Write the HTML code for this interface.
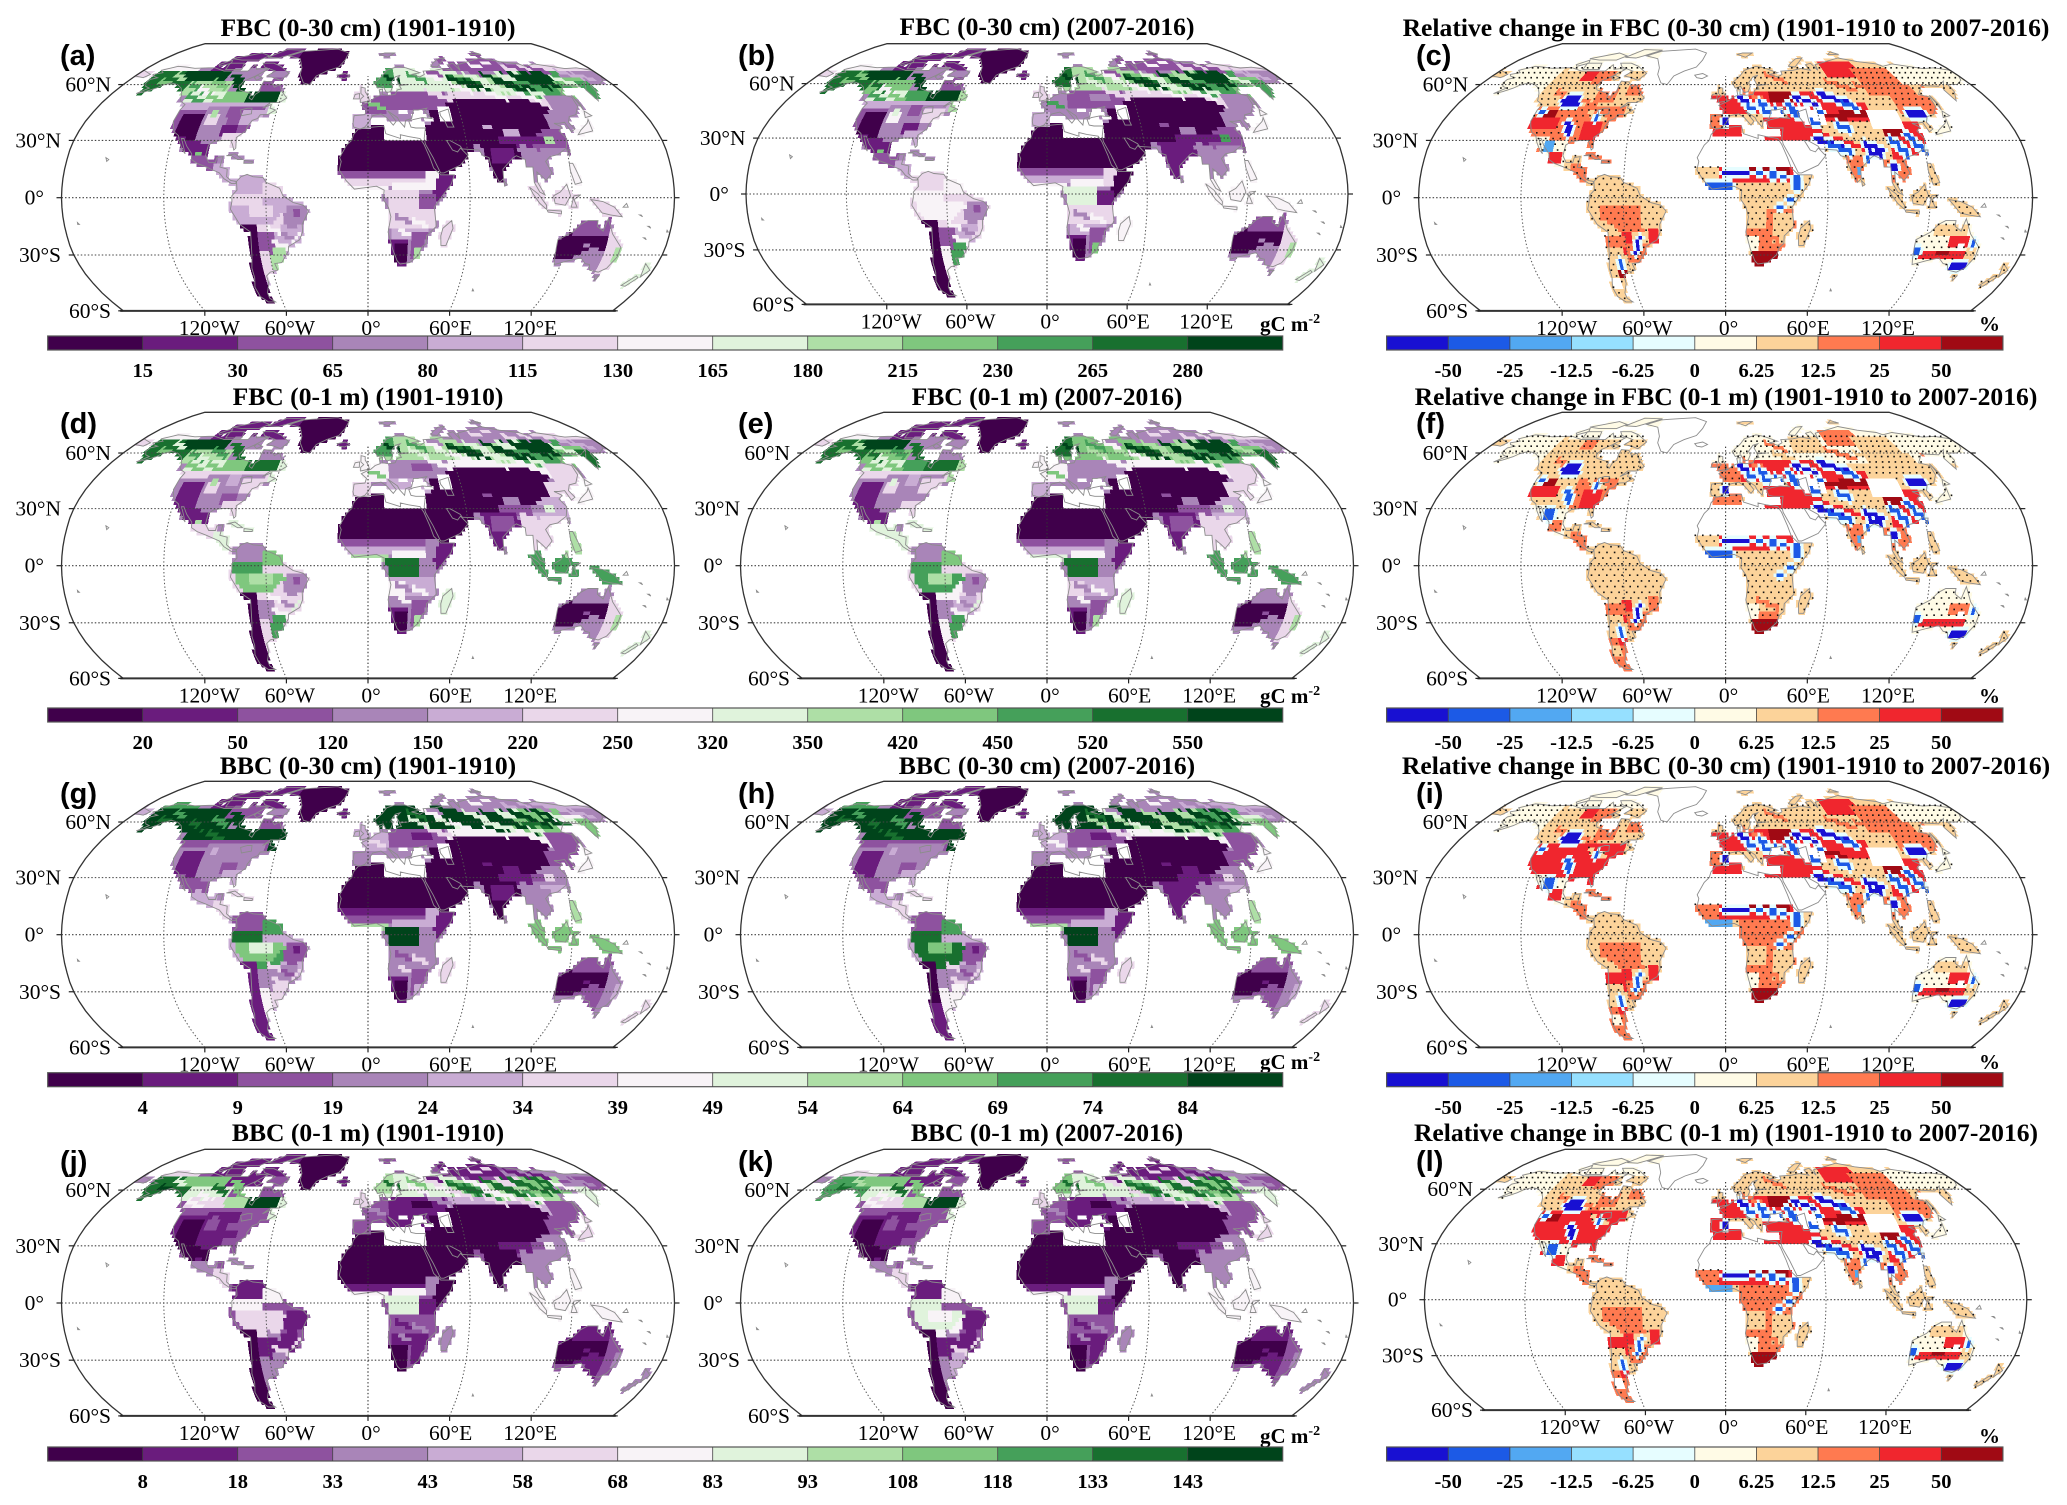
<!DOCTYPE html>
<html lang="en">
<head>
<meta charset="utf-8">
<title>Fine and bulk belowground carbon maps</title>
<style>
html,body{margin:0;padding:0;background:#fff;}
svg{display:block;}
.title{font:bold 25.6px "Liberation Serif",serif;text-anchor:middle;fill:#000;}
.letter{font:bold 29px "Liberation Sans",sans-serif;fill:#000;}
.unit{font:bold 21px "Liberation Serif",serif;fill:#000;}
.axis{font:21.5px "Liberation Serif",serif;fill:#000;}
.cbl{font:bold 20.5px "Liberation Serif",serif;fill:#000;text-anchor:middle;}
</style>
</head>
<body>
<svg id="fig" xmlns="http://www.w3.org/2000/svg" width="2067" height="1505" viewBox="0 0 2067 1505">
<rect width="2067" height="1505" fill="#fff"/>
<g id="maps"></g>
<g>
<text class="title" x="368" y="36">FBC (0-30 cm) (1901-1910)</text>
<text class="title" x="1047" y="35">FBC (0-30 cm) (2007-2016)</text>
<text class="title" x="1726" y="36">Relative change in FBC (0-30 cm) (1901-1910 to 2007-2016)</text>
<text class="title" x="368" y="405">FBC (0-1 m) (1901-1910)</text>
<text class="title" x="1047" y="405">FBC (0-1 m) (2007-2016)</text>
<text class="title" x="1726" y="405">Relative change in FBC (0-1 m) (1901-1910 to 2007-2016)</text>
<text class="title" x="368" y="774">BBC (0-30 cm) (1901-1910)</text>
<text class="title" x="1047" y="774">BBC (0-30 cm) (2007-2016)</text>
<text class="title" x="1726" y="774">Relative change in BBC (0-30 cm) (1901-1910 to 2007-2016)</text>
<text class="title" x="368" y="1141">BBC (0-1 m) (1901-1910)</text>
<text class="title" x="1047" y="1141">BBC (0-1 m) (2007-2016)</text>
<text class="title" x="1726" y="1141">Relative change in BBC (0-1 m) (1901-1910 to 2007-2016)</text>
</g>
<g>
<text class="letter" x="60" y="65">(a)</text>
<text class="letter" x="738" y="65">(b)</text>
<text class="letter" x="1416" y="65">(c)</text>
<text class="letter" x="60" y="433">(d)</text>
<text class="letter" x="738" y="433">(e)</text>
<text class="letter" x="1416" y="433">(f)</text>
<text class="letter" x="60" y="803">(g)</text>
<text class="letter" x="738" y="803">(h)</text>
<text class="letter" x="1416" y="803">(i)</text>
<text class="letter" x="60" y="1171">(j)</text>
<text class="letter" x="738" y="1171">(k)</text>
<text class="letter" x="1416" y="1171">(l)</text>
</g>
<g>
<text class="unit" x="1260" y="331">gC m<tspan dy="-8" font-size="14">-2</tspan></text>
<text class="unit" x="1260" y="703">gC m<tspan dy="-8" font-size="14">-2</tspan></text>
<text class="unit" x="1260" y="1069">gC m<tspan dy="-8" font-size="14">-2</tspan></text>
<text class="unit" x="1260" y="1443">gC m<tspan dy="-8" font-size="14">-2</tspan></text>
<text class="unit" x="1979" y="331">%</text>
<text class="unit" x="1979" y="703">%</text>
<text class="unit" x="1979" y="1069">%</text>
<text class="unit" x="1979" y="1443">%</text>
</g>
<g id="bars"></g>
</svg>
<script>
/* ---------- legend data ---------- */
const stockColors=['#40004b','#6a1c7d','#8e529f','#a985b8','#c9acd4','#ead7ea','#f8f3f7','#e0f3dc','#aedfa6','#7fc77e','#45a05a','#18702f','#00441b'];
const changeColors=['#1810d2','#1c5ae6','#52a8f2','#96e0ff','#e6fdff','#fffbe6','#fcd39a','#ff7a50','#f0262e','#a00a14'];
const ticksFbc30=['15','30','65','80','115','130','165','180','215','230','265','280'];
const ticksFbc1m=['20','50','120','150','220','250','320','350','420','450','520','550'];
const ticksBbc30=['4','9','19','24','34','39','49','54','64','69','74','84'];
const ticksBbc1m=['8','18','33','43','58','68','83','93','108','118','133','143'];
const ticksChange=['-50','-25','-12.5','-6.25','0','6.25','12.5','25','50'];
const latTickValues=[60,30,0,-30,-60];
const latTickLabels=['60°N','30°N','0°','30°S','60°S'];
const lonTickValues=[-120,-60,0,60,120];
const lonTickLabels=['120°W','60°W','0°','60°E','120°E'];

/* ---------- coastlines, lon/lat pairs ---------- */
const coastlines=[
[-168,66,-162,67,-166,68.5,-157,71,-150,70.5,-141,69.7,-130,70,-125,70,-115,68,-108,68,-96,68,-94,72,-90,69,-85,69.5,-81,69,-87,65,-93,62,-94,59,-92,57,-85,55.5,-82,55,-82,52.5,-79.5,51.5,-79,54.5,-77,56,-78,59,-78,62,-72,61.5,-68,58.5,-65,60,-61,56,-56,52.5,-60,50,-66,50,-70,47,-65,49,-65,47,-61,46,-65,43.7,-70,43.5,-71,41.5,-74,40.5,-76,37,-76,35,-81,31.5,-80,26,-81,25,-82.5,28,-84,30,-89,30,-94,29.5,-97,27.5,-97.5,22,-95,18.5,-91,18.5,-90.5,21,-87,21.5,-88,16,-83.5,15,-83.5,11,-81,9,-77.5,8.5,-78,7.5,-80.5,7.5,-85,10,-88,13,-92,14.5,-96,16,-102,18,-105.5,20,-106,23,-110,27,-113,31,-114.5,31,-112,27,-110,23,-112,25,-115,29,-117,32.5,-120.5,34.5,-122.5,37.5,-124,40,-124,46,-123,49,-128,51,-131,55,-135,58,-140,60,-146,61,-151,59.5,-153,58,-158,56,-163,55,-158,58,-162,59,-165,61,-165,63,-161,64,-166,65],
[-80,73,-72,71,-62,66.5,-66,62.5,-72,64,-78,65,-74,68,-85,70.5,-89,73],
[-117,73,-105,73,-102,69,-115,69],
[-125,72,-118,75,-116,73,-123,71],
[-90,77,-80,83,-62,82.5,-75,78,-80,76.5],
[-120,76,-100,80,-90,78,-95,75,-110,75],
[-86,65.5,-81,64,-84,62.5,-87,64],
[-55,82,-30,83.5,-18,80,-20,75,-24,70.5,-33,68,-40,65,-43,60,-48,61,-53,66,-54,70,-60,76,-72,78,-62,81.5],
[-77.5,8.5,-75,11,-71.5,12.2,-68,11,-62,10.5,-60,8,-52,5,-50,1,-44,-2.5,-38,-4,-35,-7,-39,-14,-39,-18,-41,-22,-48,-25.5,-48.5,-28,-53.5,-34,-58,-34.5,-57,-38,-62,-39,-65,-41,-65,-45,-68,-50,-68,-53,-65,-55,-70,-55,-74,-52,-75,-47,-73,-42,-73,-37,-71,-30,-70,-18,-76,-14,-81,-6,-80,-2,-80,1,-77,4],
[-6,36,3,37,10,37.5,11,33.5,20,31,20,33,25,32,32,31,34,28,37,21,39,15.5,43,12,51,12,49,7,42,-1,39,-5,40.5,-15,35,-20,35,-24,32.5,-26,31,-30,26,-34,20,-34.7,18,-33,15,-27,12,-18,13.5,-10,12,-5,9,-1,9.5,4,5,6,-4,5,-8,4.5,-13,9,-17,14.5,-16,19,-17,21,-13,27.5,-10,30,-9,33],
[49.5,-12,50.5,-16,47,-25,44,-25,43.5,-20,44.5,-16],
[-9,37,-9.5,39,-9,43,-2,43.5,-1,46,-4.5,48.5,2,51,5,53,8.5,54,8,57,10.5,57.5,10,54.5,14,54,19,54.5,21,57,24,57.5,23,59.5,30,60,23,60,21.5,63,25,65.5,21,64.5,17,61,18,59,16,56,13,55.5,11,59,7,58,5,61,11,65,15,68.5,25,71,31,70,41,67,34,66,40,64.5,44,66,44,68,54,68.5,61,69.5,68,68.5,67,72,72,73,74,68.5,75,72,86,74,100,76.5,113,74,127,72.5,130,71,140,72.5,160,69.5,170,70,180,68.5,180,65,177,62.5,170,60,163,60,162,56,157,51,156,57,163,62,155,59,143,59.5,135,54.5,141,53,140,48,135,43.5,130,42.5,127.5,39.5,129.5,36,126.5,34.5,125,39.5,121,39,118,39,122,37,119,35,122,31,120,26,114,22.5,109,21.5,106,19,109,13,105,9,103,11,100,13.5,100,8,104,1.5,101,3,98,8,98,16,94,16,94,20,89,22,87,21,80,15,80,10,77.5,8,73,17,72.5,21,69,22,67,25,57,25.5,56,27,50,30,48,30,51,25,54,24,56,26,60,22,55,17,45,13,43,13,39,21,35,28,34.5,31,36,36.5,30,36.5,27,37,26,40,29,41,35,42,41,41.5,37,45,39,47,33,46,30,46,28,41.5,24,40.5,23,37,20,40,19,42,13,45.5,18,40,16,38,12,42,8.5,44,3,43,0,39,-2,37,-5,36],
[-180,65,-172,64,-170,66,-180,68.5],
[-5,50,1,51,0,53.5,-2,56,-2,58,-5,58.5,-5,55,-3,53.5,-5,52],
[-10,52,-6,52,-6,55,-9,54.5],
[-24,65.5,-18,66.5,-14,65,-18,63.5,-22,64],
[52,71,57,70.5,68,76.5,62,76,55,73],
[11,79,18,77,25,80,16,80],
[95,79,105,79,100,81],
[142,54,143,49,142,46,142,50],
[130,33,135,34,140,35,141,41,139,39,133,35.5],
[140,42,145,43,142,45.5],
[120,18,122,18,124,13,126,8,122,7,120,14],
[95,5.5,100,2,105,-4,105,-6,101,-3,97,2],
[109,1,113,3,117,7,119,1,116,-4,110,-3],
[105.5,-6.5,114,-7,114,-8.5,106,-7.5],
[119.5,-5,121,1,125,1.5,121,-1,123,-5],
[131,-1,138,-2,145,-5,150,-10,143,-9,138,-8,134,-4],
[114,-22,122,-18,126,-14,130,-12,136,-12,136,-15,140,-17.5,142,-11,146,-19,153,-26,153,-31,150,-37,146,-39,140,-38,138,-35,135,-34.5,131,-31.5,124,-33,116,-35,115,-32,114,-26],
[145,-41,148,-41,147,-43.5],
[172.7,-34.5,178,-38,175,-41.5,174,-39],
[172,-41,174,-42,170,-46.5,167,-46],
[-85,22,-80,23,-75,20,-78,20,-82,22],
[-74,19.5,-69,19,-69,18,-74,18],
[80,9,82,7,80.5,6],
[120,25,122,25,121,22],
[-80,47,-77,47,-76,44,-82,43,-84,46]
];
/* inland seas the raster covers although they are water */
const rasterFill=[
[33,29,36,28,44,12,41,13,37,20],
[47,30,56,27,56,24,50,24],
[-84,46,-76,44,-80,41,-88,41,-92,47]
];
const outlineOnly=[
[47,45,53,46.5,53,40,54,37,50,37,49,40,47,43],
[-157,21,-155,20,-156,19],
[150,-5,153,-5,152,-3],[160,-9,162,-10,161,-9],[166,-15,168,-16,167,-15],[165,-21,167,-22,166,-21],[178,-18,179,-18,178,-17],[-172,-14,-171,-14,-172,-13],[70,-49,71,-49,70,-48]
];

/* ---------- stock class patterns for short streak features (a,b,d,e,g,h,j,k) ---------- */
const streakDark=[12,12,12,12,12,12,11,11];
const streakMid=[10,10,10,10,11,11,9,9];
const streakPale=[7,7,7,8,7,8,6,7];
const streakWhite=[6,6,6,6,6,7,5,5];
const streakPurple=[2,2,3,3,3,3,1,1];
const streakLav=[4,4,4,4,4,4,3,3];
const streakSav=[3,3,3,3,2,2,1,1];
const streakSavLight=[6,6,6,6,5,5,3,3];

/* ---------- biomass zones: boxes [w,s,e,n], streaks [lon,lat,length] or polygons, painted in order ---------- */
const stockFallback=[3,3,3,3,3,3,2,2];
const stockShapes={
canArctic:[-125,69,-60,85],arcticIsl:[-96,62,-80,68],greenland:[-62,59,-10,85],iceland:[-26,62,-12,67.5],
alaskaCore:[-170,55,-130,69],northSlope:[-170,68.5,-135,72],yukonNwt:[-143,63,-107,69],interiorW:[-132,55,-100,63],nunavut:[-107,62,-80,70],
hudsonLine:[-108,67,-100,67,-86,57,-92,55],prairie:[-125,50,-85,50,-85,55,-100,57,-125,57],ontario:[-100,49.5,-84,49.5,-84,56,-100,56],quebecN:[-80,56,-62,64],labrador:[-66,44,-52,56],quebecBand:[-84,50,-62,56],
na1:[-130,60,18],na2:[-122,58,16],na3:[-115,62,12],na4:[-126,54,14],na5:[-112,54,14],na6:[-150,66,12],na7:[-155,62,14],
usNorth:[-125,44,-65,50],usWest:[-124,28,-100,28,-100,46,-124,46],usWestCore:[-120,28,-105,28,-105,45,-120,45],usPlains:[-105,25,-90,48],usEast:[-90,28,-68,48],usEastDark:[-92,33,-82,38],usMidLight:[-103,38,-95,44],usGreenBlob:[-101,43,-97,47],usNE:[-82,38,-68,47],usLake:[-92,42,-84,48],usSE:[-90,25,-76,34],
mexico:[-118,32,-97,28,-96,17,-105,17],mexGreen:[-104,22,-100,25],mexicoS:[-105,15,-90,22],centralAm:[-92,7,-76,18],caribbean:[-86,17,-62,25],
saBase:[-82,-56,-34,13],saNorth:[-80,3,-58,13],guyana:[-62,0,-50,8],amazonN:[-80,-3,-62,3],amazonCore:[-78,-3,-50,-3,-48,-8,-58,-14,-72,-14,-78,-8],amazonPale:[-70,-10,-55,-4],amazonRim:[-78,-14,-58,-14,-50,-8,-48,-12,-55,-18,-70,-18],eBrazil:[-48,-3,-35,-5,-36,-12,-45,-17,-50,-12],eBrazilDark:[-44,-10,-40,-6],cerrado:[-60,-15,-42,-15,-41,-24,-52,-27,-62,-25],saCoast:[-45,-23,-40,-18,-38,-18,-48,-27],andes:[-75,-35,-65,-14],patagonia:[-76,-56,-66,-35],chaco:[-65,-30,-55,-18],pampas:[-62,-38,-57,-26,-50,-26,-52,-36,-58,-39],eArg:[-66,-44,-60,-28],
sa1:[-60,-16,10],sa2:[-52,-19,8],sa3:[-58,-23,10],
afBase:[-20,-36,52,37],sahara:[-20,13,65,38],sahelN:[-20,9.5,40,13.5],sahelS:[-20,6,40,9.5],guinea:[-15,3,12,7],caNorth:[15,5,35,9],congo:[10,5,30,5,30,-5,12,-5],ethiopia:[34,5,42,14],horn:[42,12,52,12,48,5,41,-2,38,0,40,7],kenya:[30,-5,41,2],savanna:[12,-15,41,-5],angola:[12,-15,22,-8],miombo:[14,-22,36,-15],af1:[16,-10,10],af2:[26,-12,10],af3:[18,-17,10],af4:[26,-19,8],kalahari:[12,-35,25,-22],kalaCore:[17,-33,24,-24],seAfrica:[25,-35,34,-25,36,-18,27,-18],natal:[28,-32,33,-26],madag:[42,-27,52,-11],
iberia:[-10,36,3,44],westEu:[-6,44,15,55],euStreak:[0,50,12],uk:[-11,50,2,60],balkan:[12,36,45,46],turkeyDark:[30,30,50,38.5],eeRussia:[15,46,60,46,60,52,50,58,30,57,15,55],eeCore:[30,50,45,55],nRussia:[4,55,30,57,50,57,70,56,70,70,40,70,4,70],scand:[4,58,20,70],wSib:[60,57,100,53,100,66,60,67],wSibStreak:[60,66,85,62,85,60,60,64],wSibStreak2:[70,60,95,56,95,54,70,58],eSib:[100,50,130,50,145,56,150,68,120,72,100,68],eSibCore:[120,60,141,68],eSibCore2:[113,56,120,60],eSibPale:[100,62,118,68],eSibStreak:[100,56,125,52,125,50,100,54],sibSouth:[55,48,125,46,125,52,100,54,60,57,55,54],sibWhiteBelt:[40,57,20],centralAsia:[40,30,60,30,70,26,95,26,115,36,120,48,110,51,60,52,50,48,40,45],tundraW:[60,68,110,68,110,80,60,80],tundraPatch:[85,70,105,74],tundraE:[110,68,180,72],farEast:[135,52,165,52,165,65,140,65],kamchatka:[155,50,165,62],neAsia:[-180,60,-165,70],
sd1:[60,64,20],sd2:[72,62,15],sd3:[88,66,20],sd4:[95,62,15],sd5:[105,68,18],sd6:[112,64,20],sd7:[125,68,18],sd8:[108,58,14],sd9:[130,62,15],sd10:[135,60,14],sd11:[12,65,12],sd12:[30,66,14],sd13:[140,60,12],
sp1:[75,66,15],sp2:[95,58,15],sp3:[115,56,15],sp4:[85,60,12],sp5:[140,64,14],sp6:[50,62,16],sp7:[30,62,14],sp8:[118,60,12],
sw1:[60,60,14],sw2:[82,56,14],sw3:[105,55,12],sw4:[42,67,14],
su1:[68,72,20],su2:[95,72,15],su3:[115,72,12],su4:[85,75,12],su5:[45,69,12],su6:[130,71,14],
sl1:[150,68,14],sl2:[160,66,12],
amur:[122,42,142,55],korea:[115,35,130,45],chinaE:[100,22,122,22,122,37,110,37,100,30],chinaDark:[100,28,108,33],chinaBlob:[108,28,114,32],chinaS:[105,20,120,26],tibet:[80,27,100,33],tibetSpots:[84,33,94,36],tibetSpots2:[72,36,78,39],india:[68,28,90,28,92,22,82,10,76,7,72,18],indiaE:[75,18,88,26],seAsia:[92,8,110,8,110,23,92,28],indonesia:[94,-12,156,8],philippines:[117,5,128,20],japan:[129,30,146,30,146,46,140,46,137,40,129,35],
ausBase:[112,-40,155,-10],ausCore:[114,-32,125,-32,135,-26,145,-28,145,-20,130,-20,122,-18,114,-22],ausHole:[130,-26,135,-23],ausEast:[145,-40,155,-15],ausGreen:[150,-33,154,-26],ausS:[113,-36,135,-32],ausN:[122,-19,145,-10],nz:[165,-48,180,-33],
noData1:[10,31,36,40],noData2:[21,44,27,47],noData3:[29,40,34,44],noData4:[37,40,43,43],noData5:[46,41,55,48]
};
const stockClasses={
canArctic:[1,1,1,1,1,1,1,1],arcticIsl:[2,2,2,2,1,1,1,1],greenland:[0,0,0,0,0,0,0,0],iceland:[1,1,1,1,1,1,1,1],
alaskaCore:[11,11,11,11,12,12,11,10],northSlope:[6,6,6,6,10,10,5,5],yukonNwt:[12,12,12,12,12,12,9,9],interiorW:[8,9,8,9,12,12,7,7],nunavut:[3,3,3,3,2,2,1,1],
hudsonLine:[12,12,11,11,12,12,9,9],prairie:[7,7,7,7,12,12,5,5],ontario:[9,10,9,10,12,12,8,8],quebecN:[2,2,3,3,2,2,2,2],labrador:[7,8,7,8,12,12,7,7],quebecBand:[12,12,11,11,12,12,12,12],
na1:[10,11,10,11,11,11,7,7],na2:[6,6,7,7,12,12,6,6],na3:[9,9,10,10,10,10,11,11],na4:[10,10,9,9,12,12,6,6],na5:[9,9,9,9,11,11,5,5],na6:[8,9,7,8,10,10,7,8],na7:[9,9,9,9,11,11,12,11],
usNorth:[4,4,5,5,2,2,2,2],usWest:[2,2,3,3,3,3,1,1],usWestCore:[0,0,1,1,1,1,0,0],usPlains:[3,3,3,3,3,3,1,1],usEast:[2,3,3,3,3,3,2,2],usEastDark:[1,1,2,3,2,2,1,1],usMidLight:[5,6,5,5,3,3,2,2],usGreenBlob:[8,7,8,7,4,4,2,2],usNE:[4,5,5,5,3,3,2,2],usLake:[2,2,4,4,3,3,1,1],usSE:[5,4,5,5,4,4,2,2],
mexico:[1,1,1,1,2,2,0,0],mexGreen:[9,9,8,8,4,4,1,1],mexicoS:[2,2,5,7,4,4,3,3],centralAm:[4,4,7,7,5,5,5,5],caribbean:[3,3,7,7,5,5,3,3],
saBase:[4,5,5,5,4,4,2,2],saNorth:[4,5,3,3,2,2,1,1],guyana:[5,6,9,9,10,10,6,6],amazonN:[5,6,10,10,11,11,6,7],amazonCore:[4,6,9,10,9,11,5,7],amazonPale:[5,6,8,8,7,9,5,6],amazonRim:[5,5,5,6,10,11,5,6],eBrazil:[3,3,3,3,2,2,1,1],eBrazilDark:[2,2,2,2,1,1,1,1],cerrado:[4,4,5,4,3,3,1,1],saCoast:[6,5,7,7,5,5,5,5],andes:[0,0,0,0,1,0,0,0],patagonia:[0,0,0,0,1,1,0,0],chaco:[2,2,3,3,3,3,1,1],pampas:[8,10,10,10,5,6,3,4],eArg:[5,6,5,6,6,6,3,3],
sa1:[6,6,6,6,5,5,3,3],sa2:[3,3,3,3,2,2,1,1],sa3:[6,6,6,6,5,5,5,5],
afBase:[3,3,3,3,3,3,2,2],sahara:[0,0,0,0,0,0,0,0],sahelN:[2,2,2,2,1,1,0,0],sahelS:[5,4,4,4,2,2,1,1],guinea:[6,6,8,7,8,8,6,6],caNorth:[6,6,6,6,4,4,6,6],congo:[5,7,11,11,12,12,7,7],ethiopia:[6,5,3,3,4,4,3,3],horn:[1,0,1,1,1,1,0,0],kenya:[2,1,3,3,3,3,1,1],savanna:[5,5,4,4,3,3,2,2],angola:[5,5,6,5,3,3,2,2],miombo:[4,4,3,3,3,3,1,1],af1:streakSav,af2:streakSavLight,af3:streakSavLight,af4:streakSav,kalahari:[1,1,1,1,1,1,0,0],kalaCore:[0,0,0,0,0,0,0,0],seAfrica:[2,2,2,2,2,2,1,1],natal:[8,9,8,8,4,4,1,1],madag:[5,6,7,7,5,5,3,3],
iberia:[4,4,5,4,3,3,2,2],westEu:[2,3,6,6,4,4,2,2],euStreak:[9,10,9,9,5,6,3,3],uk:[5,5,6,6,4,4,5,5],balkan:[3,3,4,3,3,3,1,1],turkeyDark:[0,0,0,0,0,0,0,0],eeRussia:[2,2,3,3,2,2,1,1],eeCore:[2,3,2,3,1,1,0,0],nRussia:[7,8,8,9,12,12,7,7],scand:[10,11,10,11,12,12,8,9],wSib:[8,9,8,9,12,12,8,8],wSibStreak:[11,11,11,11,12,12,10,10],wSibStreak2:[7,8,7,8,12,12,10,10],eSib:[10,10,10,10,9,10,8,8],eSibCore:[12,12,12,12,9,10,9,9],eSibCore2:[12,12,12,12,11,11,10,10],eSibPale:[7,8,7,8,7,8,5,5],eSibStreak:[9,10,9,10,12,12,11,11],sibSouth:[5,5,6,6,6,6,4,4],sibWhiteBelt:[5,5,6,6,5,5,3,3],centralAsia:[0,0,0,0,0,0,0,0],tundraW:[2,2,3,3,3,3,1,1],tundraPatch:[6,6,5,5,6,6,5,5],tundraE:[5,5,5,5,4,4,3,3],farEast:[9,9,9,9,6,7,3,3],kamchatka:[10,10,11,11,9,9,7,7],neAsia:[5,5,5,5,4,4,3,3],
sd1:streakDark,sd2:streakDark,sd3:streakDark,sd4:streakDark,sd5:streakDark,sd6:streakDark,sd7:streakDark,sd8:streakDark,sd9:streakDark,sd10:streakDark,sd11:streakDark,sd12:streakMid,sd13:streakMid,
sp1:streakPale,sp2:streakPale,sp3:streakPale,sp4:streakPale,sp5:streakPale,sp6:streakPale,sp7:streakPale,sp8:streakMid,
sw1:streakWhite,sw2:streakWhite,sw3:streakWhite,sw4:streakWhite,
su1:streakPurple,su2:streakPurple,su3:streakPurple,su4:streakPurple,su5:streakPurple,su6:streakPurple,
sl1:streakLav,sl2:streakLav,
amur:[3,3,5,5,2,2,2,2],korea:[3,3,5,5,2,2,2,2],chinaE:[2,2,4,4,3,3,3,3],chinaDark:[1,1,3,3,2,2,2,2],chinaBlob:[8,10,7,7,5,5,6,6],chinaS:[3,3,5,5,4,4,3,3],tibet:[1,1,2,2,1,1,1,1],tibetSpots:[4,3,3,3,1,1,0,0],tibetSpots2:[4,2,2,2,1,1,0,0],india:[0,1,1,1,0,1,0,0],indiaE:[1,1,2,2,1,1,0,0],seAsia:[3,3,5,5,3,3,3,3],indonesia:[5,6,10,10,9,9,6,6],philippines:[6,6,8,8,8,8,6,6],japan:[6,6,6,6,6,6,5,5],
ausBase:[3,3,3,3,2,2,1,1],ausCore:[0,0,0,0,0,0,0,0],ausHole:[3,3,2,2,1,1,1,1],ausEast:[5,5,5,5,3,3,2,2],ausGreen:[8,8,8,8,4,4,3,3],ausS:[3,3,3,3,3,3,2,2],ausN:[2,2,3,3,2,2,1,1],nz:[7,7,7,7,5,5,3,3],
noData1:[-1,-1,-1,-1,-1,-1,-1,-1],noData2:[-1,-1,-1,-1,-1,-1,-1,-1],noData3:[-1,-1,-1,-1,-1,-1,-1,-1],noData4:[-1,-1,-1,-1,-1,-1,-1,-1],noData5:[-1,-1,-1,-1,-1,-1,-1,-1]
};

/* ---------- relative change patterns, values per panel c,f,i,l ---------- */
const cDeep=[0,0,0,0];
const cBlue=[1,1,1,1];
const cBlueSoft=[1,1,2,2];
const cRed=[8,8,8,8];
const cRedSoft=[8,7,8,8];
const cDark=[9,9,9,9];
const cDarkSoft=[9,8,9,9];
const cOrange=[7,7,7,7];
const cOrangeSoft=[7,6,7,7];
const cTan=[6,6,6,6];
const cCream=[5,5,5,5];
const cNone=[-1,-1,-1,-1];

const changeFallback=[6,6,6,6];
const changeShapes={
greenland:[-62,59,-10,85],canArctic:[-125,68,-60,85],alaska:[-170,54,-130,72],canadaS:[-125,48,-60,48,-60,64,-125,64],canRed:[-110,62,-95,68],hudsonW:[-100,60,-85,68],quebecOr:[-90,50,-75,58],labr:[-70,54,-55,62],canS1:[-120,56,14],canS2:[-100,52,14],
sask:[-114,50,-106,55,-100,53,-97,45,-104,46,-112,50],usBase:[-125,25,-66,48],usNWdark:[-120,40,-110,47],usRed:[-124,36,-105,42],usBlue1:[-122,44,-118,47],usBlue2:[-107,38,-98,40,-94,33,-98,32,-100,37],usEast:[-95,30,-70,46],usSE:[-90,30,-78,40],usTan:[-90,45,14],usBlue3:[-84,41,-81,44],mexico:[-118,32,-96,30,-96,17,-106,17],mexBlue:[-110,25,-103,30],mexRed:[-105,18,-98,24],centralAm:[-92,7,-76,18],caribbean:[-86,17,-62,25],
saNorth:[-82,-8,-50,13],saCore:[-74,-3,-52,-3,-40,-14,-50,-18,-62,-18,-75,-10],saNE:[-50,-16,-34,-3],saEast:[-46,-24,-40,-16],saRed:[-62,-30,-56,-18],saWest:[-72,-26,-60,-20],saSouth:[-60,-34,-46,-24],saBlueLine:[-56,-30,-52,-20,-50,-20,-54,-30],patagonia:[-76,-56,-62,-38],saDark:[-68,-42,-62,-36],saStripe:[-74,-48,-68,-42],saBlue2:[-66,-37,-63,-31],
saharaNo:[-18,17,60,35],arabiaNo:[35,13,60,35],maghreb:[-8,33,10,38],westSahel:[-18,6,4,17],centralAf:[8,-5,46,9],sahelRed:[-3,8,40,16.5],sahelDark:[10,13,38,16.5],sahelTan:[0,9,24,8],sahelBlue:[-2,12,15,14.5],sahelBlue2:[18,12,22,15],sahelBlue3:[27,11,30,14],sahelBlue4:[32,10,36,13],guineaBlue:[-15,5,5,8],southAf:[12,-28,42,-5],afTan:[13,-15,25,-5],afTan2:[28,-24,40,-8],afTan3:[18,-18,14],namib:[12,-28,20,-20],afOrange:[20,-28,32,-24],saDarkRed:[17,-36,33,-28],afBlue:[40,5,44,12],afBlue2:[30,-6,35,-3],afBlue3:[36,-2,40,1],madag:[42,-27,52,-11],
northBand:[-10,55,180,78],nt1:[30,66,16],nt2:[110,66,18],nt3:[130,64,14],nt4:[75,62,18],nt5:[95,60,16],ntTan2:[35,60,18],europeW:[-10,44,10,55],iberia:[-10,36,3,44],iberiaBlue:[-2,38,3,43],eeBelt:[10,44,75,56],eeDark:[30,51,46,57],ntPatch:[78,64,107,75],ntOrange:[100,55,135,70],ntTan:[50,60,75,70],
turkeyIran:[25,30,60,42],himRed:[60,33,30],india:[72,22,84,22,80,10,76,8],indiaE:[84,18,92,27],indiaN:[84,28,95,18],
china:[100,20,122,40],chinaDark:[98,32,110,38],seAsia:[94,8,110,20],seBlue:[98,14,102,19],cAsia:[65,40,95,50],cAsiaDark:[75,42,92,47],gobi:[92,37,113,46],aral:[48,38,65,48],neChina:[115,44,140,55],neBlue:[118,42,130,47],japan:[129,30,146,30,146,46,140,46,137,40,129,35],indonesia:[94,-12,156,8],farNorthEast:[130,60,180,72],
eb1:[8,53,7],eb2:[22,50,6],eb3:[24,46,6],eb4:[40,49,5],eb5:[43,45,5],eb6:[47,53,15],eb7:[65,55,20],eb8:[32,46,6],eb9:[14,48,6],eb10:[54,40,6],eb11:[70,38,8],eb12:[78,50,10],eb13:[58,47,6],eh1:[55,31,17],eh2:[62,28,14],eh3:[84,28,11],eh4:[86,24,8],eh5:[84,20,7],eh6:[78,14,4],
ec1:[100,30,5],ec2:[104,26,5],ec3:[110,33,5],ec4:[114,28,5],ec5:[118,24,4],ec6:[108,22,5],
er1:[12,56,14],er2:[50,50,12],er3:[40,42,10],er4:[65,44,12],
aus:[112,-40,155,-10],ausBand:[118,-31,146,-27],ausCenter:[135,-25,147,-20],ausN:[125,-20,145,-14],ausHole:[140,-27,144,-23],ausBlue:[141,-38,150,-33],ausBlueW:[115,-30,118,-26],ausDark:[128,-30,137,-27],ausSE:[147,-33,153,-26],ausBlue3:[148,-26,150,-22],nz:[165,-48,180,-33]
};
const changeClasses={
greenland:cNone,canArctic:cCream,alaska:cCream,canadaS:cTan,canRed:cRedSoft,hudsonW:cOrangeSoft,quebecOr:cOrangeSoft,labr:cOrangeSoft,canS1:cOrange,canS2:cOrangeSoft,
sask:cDeep,usBase:[7,6,8,8],usNWdark:[9,9,8,9],usRed:cRed,usBlue1:cBlue,usBlue2:[0,1,1,0],usEast:[7,7,8,8],usSE:cRed,usTan:cTan,usBlue3:cBlue,mexico:cCream,mexBlue:[2,1,1,1],mexRed:cRedSoft,centralAm:cOrange,caribbean:cOrangeSoft,
saNorth:cTan,saCore:cOrangeSoft,saNE:cTan,saEast:cRedSoft,saRed:cRed,saWest:[7,7,8,8],saSouth:cOrange,saBlueLine:[0,0,1,1],patagonia:[6,7,7,7],saDark:[9,8,8,8],saStripe:[-1,6,5,-1],saBlue2:cBlue,
saharaNo:cNone,arabiaNo:cNone,maghreb:cRedSoft,westSahel:[6,6,7,7],centralAf:[6,6,7,7],sahelRed:cRed,sahelDark:cDarkSoft,sahelTan:cTan,sahelBlue:cDeep,sahelBlue2:cBlue,sahelBlue3:cBlue,sahelBlue4:cBlue,guineaBlue:cBlueSoft,southAf:cOrangeSoft,afTan:cTan,afTan2:cTan,afTan3:cOrange,namib:cCream,afOrange:cOrange,saDarkRed:cDark,afBlue:cBlue,afBlue2:cBlue,afBlue3:cBlue,madag:cTan,
northBand:[6,5,6,6],nt1:cOrange,nt2:cOrangeSoft,nt3:cOrange,nt4:cOrange,nt5:cOrangeSoft,ntTan2:cTan,europeW:cRedSoft,iberia:[7,6,7,8],iberiaBlue:cDeep,eeBelt:cRed,eeDark:cDarkSoft,ntPatch:cRedSoft,ntOrange:cOrangeSoft,ntTan:cTan,
turkeyIran:cRed,himRed:cRed,india:[7,7,7,7],indiaE:cRed,indiaN:cRed,
china:cRed,chinaDark:cDark,seAsia:cOrange,seBlue:cDeep,cAsia:cRed,cAsiaDark:[9,9,8,9],gobi:cNone,aral:cNone,neChina:cOrangeSoft,neBlue:cDeep,japan:cCream,indonesia:cTan,farNorthEast:cCream,
eb1:cDeep,eb2:cBlue,eb3:cBlue,eb4:cBlue,eb5:cBlue,eb6:cDeep,eb7:cDeep,eb8:cBlue,eb9:cBlue,eb10:cBlue,eb11:cBlue,eb12:cBlue,eb13:cBlue,eh1:cDeep,eh2:cBlue,eh3:cDeep,eh4:cDeep,eh5:cBlue,eh6:[2,2,2,2],
ec1:cBlue,ec2:cBlue,ec3:cBlue,ec4:cBlue,ec5:cBlue,ec6:cBlue,
er1:cOrange,er2:cRed,er3:cRed,er4:cDark,
aus:cCream,ausBand:cRed,ausCenter:cRedSoft,ausN:[6,5,6,6],ausHole:cNone,ausBlue:cDeep,ausBlueW:cBlue,ausDark:cDarkSoft,ausSE:[6,5,6,6],ausBlue3:cBlue,nz:cTan
};

/* ---------- Robinson projection ---------- */
const robLat=[0,5,10,15,20,25,30,35,40,45,50,55,60,65,70,75,80,85,90];
const robPLEN=[1,.9986,.9954,.99,.9822,.973,.96,.9427,.9216,.8962,.8679,.835,.7986,.7597,.7186,.6732,.6213,.5722,.5322];
const robPDFE=[0,.062,.124,.186,.248,.31,.372,.434,.4958,.5571,.6176,.6769,.7346,.7903,.8435,.8936,.9394,.9761,1];
function rob(lat){
  const a=Math.min(Math.abs(lat),90),i=Math.min(Math.floor(a/5),17),t=(a-robLat[i])/5;
  return [robPLEN[i]+(robPLEN[i+1]-robPLEN[i])*t,(robPDFE[i]+(robPDFE[i+1]-robPDFE[i])*t)*(lat<0?-1:1)];
}
function proj(lon,lat,p){
  const r=rob(lat);
  return [p.cx+p.hw*r[0]*lon/180,p.eq-p.sy*r[1]];
}
function f1(v){return v.toFixed(1);}

/* ---------- geometry tests ---------- */
function inPoly(x,y,q){
  let c=false;
  for(let i=0,j=q.length-2;i<q.length;j=i,i+=2){
    const yi=q[i+1],yj=q[j+1];
    if((yi>y)!==(yj>y)&&x<(q[j]-q[i])*(y-yi)/(yj-yi)+q[i])c=!c;
  }
  return c;
}
function inShape(x,y,s){
  if(s.length===3){
    const dx=x-s[0];
    return dx>=0&&dx<=s[2]&&Math.abs(y-(s[1]-.3*dx))<1.5;
  }
  return s.length===4?(x>=s[0]&&x<s[2]&&y>=s[1]&&y<s[3]):inPoly(x,y,s);
}
function bbox(q){
  let a=1e9,b=1e9,c=-1e9,d=-1e9;
  for(let i=0;i<q.length;i+=2){a=Math.min(a,q[i]);c=Math.max(c,q[i]);b=Math.min(b,q[i+1]);d=Math.max(d,q[i+1]);}
  return [a,b,c,d];
}
const rasterPolys=coastlines.concat(rasterFill);
const landBoxes=rasterPolys.map(bbox);
function isLand(x,y){
  for(let k=0;k<rasterPolys.length;k++){
    const b=landBoxes[k];
    if(x<b[0]||x>b[2]||y<b[1]||y>b[3])continue;
    if(inPoly(x,y,rasterPolys[k]))return true;
  }
  return false;
}

/* ---------- raster ---------- */
const STEP=2,LATN=88,NR=73,NC=180;
const stockKeys=Object.keys(stockShapes),changeKeys=Object.keys(changeShapes);
const landGrid=[],stockZoneGrid=[],changeZoneGrid=[];
for(let r=0;r<NR;r++){
  const lat=LATN-r*STEP-1,rowL=[],rowS=[],rowC=[];
  for(let c=0;c<NC;c++){
    const lon=-180+c*STEP+1;
    const land=isLand(lon,lat)||isLand(lon-.7,lat-.7)||isLand(lon+.7,lat-.7)||isLand(lon-.7,lat+.7)||isLand(lon+.7,lat+.7);
    rowL.push(land);
    let zs=-1,zc=-1;
    if(land){
      for(let k=0;k<stockKeys.length;k++)if(inShape(lon,lat,stockShapes[stockKeys[k]]))zs=k;
      for(let k=0;k<changeKeys.length;k++)if(inShape(lon,lat,changeShapes[changeKeys[k]]))zc=k;
    }
    rowS.push(zs);rowC.push(zc);
  }
  landGrid.push(rowL);stockZoneGrid.push(rowS);changeZoneGrid.push(rowC);
}

function classGrid(kind,idx){
  const g=[];
  for(let r=0;r<NR;r++){
    const row=[];
    for(let c=0;c<NC;c++){
      if(!landGrid[r][c]){row.push(-1);continue;}
      if(kind==='stock'){
        const z=stockZoneGrid[r][c];
        row.push(z<0?stockFallback[idx]:stockClasses[stockKeys[z]][idx]);
      }else{
        const z=changeZoneGrid[r][c];
        row.push(z<0?changeFallback[idx]:changeClasses[changeKeys[z]][idx]);
      }
    }
    g.push(row);
  }
  if(kind==='change'){
    const h=g.map(x=>x.slice());
    const around=[[-1,0],[1,0],[0,-1],[0,1]];
    for(let r=0;r<NR;r++)for(let c=0;c<NC;c++){
      if(g[r][c]<0||g[r][c]>1)continue;
      around.forEach(function(o){
        const R=r+o[0],C=c+o[1];
        if(R<0||R>=NR||C<0||C>=NC)return;
        if(g[R][C]>=5)h[R][C]=4;
      });
    }
    return h;
  }
  return g;
}

/* ---------- drawing ---------- */
const NS='http://www.w3.org/2000/svg';
function mk(tag,attrs,parent){
  const e=document.createElementNS(NS,tag);
  for(const k in attrs)e.setAttribute(k,attrs[k]);
  parent.appendChild(e);
  return e;
}
function polyD(q,p,close){
  let d='';
  for(let i=0;i<q.length;i+=2){
    const a=proj(q[i],q[i+1],p);
    d+=(i?'L':'M')+f1(a[0])+' '+f1(a[1]);
  }
  return d+(close?'Z':'');
}
const panelLayout=[
 {id:'a',kind:'stock',idx:0,cx:368,hw:306.5,eq:197.7,sy:154},
 {id:'b',kind:'stock',idx:1,cx:1047,hw:301,eq:194,sy:150.3},
 {id:'c',kind:'change',idx:0,cx:1725.6,hw:307,eq:197.7,sy:154},
 {id:'d',kind:'stock',idx:2,cx:368,hw:306.5,eq:565.7,sy:153.4},
 {id:'e',kind:'stock',idx:3,cx:1047,hw:306.5,eq:565.7,sy:153.4},
 {id:'f',kind:'change',idx:1,cx:1725.6,hw:307,eq:565.7,sy:153.4},
 {id:'g',kind:'stock',idx:4,cx:368,hw:306.5,eq:934.7,sy:153.4},
 {id:'h',kind:'stock',idx:5,cx:1047,hw:306.5,eq:934.7,sy:153.4},
 {id:'i',kind:'change',idx:2,cx:1725.6,hw:307,eq:934.7,sy:153.4},
 {id:'j',kind:'stock',idx:6,cx:368,hw:306.5,eq:1303,sy:153.7},
 {id:'k',kind:'stock',idx:7,cx:1047,hw:306.5,eq:1303,sy:153.7},
 {id:'l',kind:'change',idx:3,cx:1725.6,hw:301.2,eq:1299.7,sy:150.4}
];
const latLabelReach=[257,307,324,307,257];
const lonLabelNudge=[4.5,3.5,3,1,-1];
const maps=document.getElementById('maps');

panelLayout.forEach(function(p){
  const g=mk('g',{},maps);
  
  

  /* outer meridians sit beneath the raster */
  [-120,120].forEach(function(lon){
    const pts=[];
    for(let la=-60;la<=30;la+=5){pts.push(lon,la);}
    const m=mk('path',{d:polyD(pts,p,false),fill:'none',stroke:'#555','stroke-width':1,'stroke-dasharray':'1.4 2.2'},g);
    
    
  });

  /* raster cells from class grid */
  const grid=classGrid(p.kind,p.idx);
  const colors=p.kind==='stock'?stockColors:changeColors;
  const d=colors.map(function(){return '';});
  for(let r=0;r<NR;r++){
    const top=LATN-r*STEP,bot=top-STEP;
    let c=0;
    while(c<NC){
      const v=grid[r][c];
      let e=c+1;
      while(e<NC&&grid[r][e]===v)e++;
      if(v>=0){
        const L=-180+c*STEP,R=-180+e*STEP;
        const A=proj(L,top,p),B=proj(R,top,p),C=proj(R,bot,p),D=proj(L,bot,p);
        d[v]+='M'+f1(A[0])+' '+f1(A[1])+'L'+f1(B[0])+' '+f1(B[1])+'L'+f1(C[0])+' '+f1(C[1])+'L'+f1(D[0])+' '+f1(D[1])+'Z';
      }
      c=e;
    }
  }
  d.forEach(function(dd,i){
    if(!dd)return;
    const cell=mk('path',{d:dd,fill:colors[i],'shape-rendering':'crispEdges'},g);
    
    
  });

  /* coastlines */
  let cd='';
  coastlines.concat(outlineOnly).forEach(function(q){cd+=polyD(q,p,true);});
  const coast=mk('path',{d:cd,fill:'none',stroke:'#8c8c8c','stroke-width':.9},g);
  
  

  /* significance stipple */
  if(p.kind==='change'){
    let sd='';
    for(let row=0,la=70;la>-56;la-=3,row++){
      for(let lo=-180+(row%2?2.25:0);lo<180;lo+=4.5){
        const r=Math.floor((LATN-la)/STEP),c=Math.floor((lo+180)/STEP);
        if(r<0||r>=NR||c<0||c>=NC)continue;
        const v=grid[r][c];
        if(v<5||v>7)continue;
        const a=proj(lo,la,p);
        sd+='M'+f1(a[0]-.8)+' '+f1(a[1]-.8)+'h1.6v1.6h-1.6Z';
      }
    }
    const st=mk('path',{d:sd,fill:'#111'},g);
    
    
  }

  /* frame */
  const side=[];
  for(let la=90;la>=-60;la-=5)side.push(-180,la);
  for(let la=-60;la<=90;la+=5)side.push(180,la);
  const frame=mk('path',{d:polyD(side,p,true),fill:'none',stroke:'#333','stroke-width':1.3},g);
  
  
  const b0=proj(-180,-60,p),b1=proj(180,-60,p);
  const base=mk('line',{x1:b0[0]-3,y1:b0[1],x2:b1[0]+3,y2:b1[1],stroke:'#333','stroke-width':2},g);
  
  

  /* latitude lines and labels */
  latTickValues.forEach(function(la,i){
    const l=proj(-180,la,p),r=proj(180,la,p);
    if(la!==-60){
      const ln=mk('line',{x1:l[0],y1:l[1],x2:r[0],y2:r[1],stroke:'#444','stroke-width':1.1,'stroke-dasharray':'1.5 2'},g);
      
      
    }
    [[l[0]-5,l[0]],[r[0],r[0]+5]].forEach(function(t){
      const tk=mk('line',{x1:t[0],y1:l[1],x2:t[1],y2:l[1],stroke:'#222','stroke-width':1.2},g);
      
      
    });
    const tx=mk('text',{'class':'axis',x:f1(p.cx-latLabelReach[i]*p.hw/306.5),y:f1(l[1]+7),'text-anchor':'end'},g);
    
    
    tx.textContent=latTickLabels[i];
  });

  /* longitude lines and labels */
  lonTickValues.forEach(function(lo,i){
    if(lo===-60||lo===0||lo===60){
      const pts=[];
      for(let la=-60;la<=(lo===0?65:60);la+=5){pts.push(lo,la);}
      const m=mk('path',{d:polyD(pts,p,false),fill:'none',stroke:lo===0?'#333':'#555','stroke-width':lo===0?1.1:1,'stroke-dasharray':'1.4 2.2'},g);
      
      
    }
    const a=proj(lo,-60,p);
    const tk=mk('line',{x1:a[0],y1:a[1],x2:a[0],y2:a[1]+5,stroke:'#222','stroke-width':1.2},g);
    
    
    const tx=mk('text',{'class':'axis',x:f1(a[0]+lonLabelNudge[i]),y:f1(a[1]+24),'text-anchor':'middle'},g);
    
    
    tx.textContent=lonTickLabels[i];
  });
});

/* ---------- colour bars ---------- */
const bars=document.getElementById('bars');
const barRows=[{y:336,ly:377,t:ticksFbc30},{y:708,ly:749,t:ticksFbc1m},{y:1072.7,ly:1114,t:ticksBbc30},{y:1447,ly:1488,t:ticksBbc1m}];
function drawBar(x0,w,y,ly,colors,labels,name){
  const g=mk('g',{},bars);
  
  
  const sw=w/colors.length;
  colors.forEach(function(c,i){
    const r=mk('rect',{x:f1(x0+i*sw),y:y,width:f1(sw+.3),height:14,fill:c},g);
    
    
  });
  const o=mk('rect',{x:x0,y:y,width:w,height:14,fill:'none',stroke:'#555','stroke-width':1.2},g);
  
  
  labels.forEach(function(t,i){
    const x=x0+(i+1)*sw;
    const s=mk('line',{x1:f1(x),y1:y,x2:f1(x),y2:y+14,stroke:'#444','stroke-width':.8},g);
    
    
    const tx=mk('text',{'class':'cbl',x:f1(x),y:ly},g);
    
    
    tx.textContent=t;
  });
}
barRows.forEach(function(b,i){
  drawBar(47.7,1235,b.y,b.ly,stockColors,b.t,'stock-colorbar-row-'+(i+1));
  drawBar(1386.6,616.3,b.y,b.ly,changeColors,ticksChange,'change-colorbar-row-'+(i+1));
});
</script>
</body>
</html>
